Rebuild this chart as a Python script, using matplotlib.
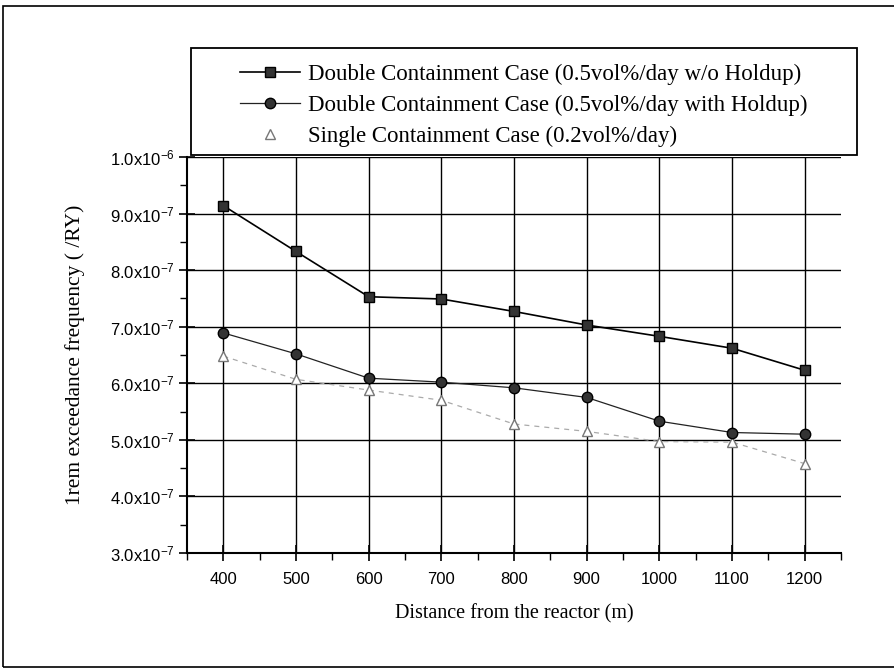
import matplotlib
matplotlib.use('Agg')
import matplotlib.pyplot as plt
from matplotlib.lines import Line2D
from matplotlib.patches import Rectangle
from matplotlib.ticker import MultipleLocator, FuncFormatter

plt.rcParams['mathtext.default'] = 'regular'

# data (frequency in 1e-7 /RY)
distance = [400, 500, 600, 700, 800, 900, 1000, 1100, 1200]
double_no_holdup = [9.14, 8.33, 7.53, 7.49, 7.27, 7.03, 6.83, 6.62, 6.23]
double_holdup = [6.89, 6.52, 6.09, 6.02, 5.92, 5.75, 5.33, 5.13, 5.10]
single = [6.48, 6.07, 5.88, 5.70, 5.28, 5.15, 4.97, 4.96, 4.58]

labels = ['Double Containment Case (0.5vol%/day w/o Holdup)',
          'Double Containment Case (0.5vol%/day with Holdup)',
          'Single Containment Case (0.2vol%/day)']

serif = 'Liberation Serif'
sans = 'Liberation Sans'

fig = plt.figure(figsize=(8.94, 6.70), dpi=100)
ax = fig.add_axes([187 / 894, 1 - 553 / 670, 654 / 894, 396 / 670])

e7 = lambda v: [x * 1e-7 for x in v]

ax.plot(distance, e7(single), color='#aaaaaa', lw=0.9, ls=(0, (4, 4)),
        marker='^', ms=7, mfc='white', mec='#777777', mew=1.0, zorder=3)
ax.plot(distance, e7(double_holdup), color='#222222', lw=0.9,
        marker='o', ms=7.5, mfc='#333333', mec='black', zorder=4)
ax.plot(distance, e7(double_no_holdup), color='black', lw=1.2,
        marker='s', ms=7.5, mfc='#333333', mec='black', zorder=5)

ax.set_xlim(350, 1250)
ax.set_ylim(3e-7, 1e-6)
ax.xaxis.set_major_locator(MultipleLocator(100))
ax.xaxis.set_minor_locator(MultipleLocator(50))
ax.yaxis.set_major_locator(MultipleLocator(1e-7))
ax.yaxis.set_minor_locator(MultipleLocator(0.5e-7))


def fmt_y(v, pos):
    exp = -6 if v > 0.95e-6 else -7
    return '%.1fx10$^{%d}$' % (v / 10 ** exp, exp)


ax.yaxis.set_major_formatter(FuncFormatter(fmt_y))
ax.xaxis.set_major_formatter(FuncFormatter(lambda v, p: '%d' % v if 400 <= v <= 1200 else ''))

for lab in ax.get_xticklabels() + ax.get_yticklabels():
    lab.set_fontfamily(sans)
ax.tick_params(which='major', direction='inout', length=12, width=1.2, labelsize=12)
ax.tick_params(axis='x', which='major', pad=8)
ax.tick_params(axis='y', which='major', pad=3)
ax.tick_params(which='minor', direction='out', length=5, width=1.0)

ax.grid(True, which='major', color='black', lw=1.0)
ax.spines['top'].set_visible(False)
ax.spines['right'].set_visible(False)
ax.spines['left'].set_linewidth(1.5)
ax.spines['bottom'].set_linewidth(1.5)

ax.set_xlabel('Distance from the reactor (m)', fontfamily=serif, fontsize=14.5, labelpad=12)
ax.set_ylabel('1rem exceedance frequency ( /RY)', fontfamily=serif, fontsize=15.5, labelpad=18)

# legend box above the plot
fig.patches.append(Rectangle((191 / 894, 1 - 155 / 670), 666 / 894, 107 / 670,
                             transform=fig.transFigure, fill=False, ec='black', lw=1.3))
handles = [
    Line2D([], [], color='black', lw=1.2, marker='s', ms=7.5, mfc='#333333', mec='black'),
    Line2D([], [], color='#222222', lw=0.9, marker='o', ms=7.5, mfc='#333333', mec='black'),
    Line2D([], [], ls='none', marker='^', ms=7, mfc='white', mec='#777777'),
]
fig.legend(handles, labels, loc='upper left', bbox_to_anchor=(240 / 894, 1 - 64 / 670),
           frameon=False, prop={'family': serif, 'size': 16.5}, handlelength=2.6,
           handletextpad=0.35, labelspacing=0.42, borderpad=0, borderaxespad=0)

# outer page frame
fig.patches.append(Rectangle((3 / 894, 3 / 670), 1.2, 661 / 670,
                             transform=fig.transFigure, fill=False, ec='black', lw=1.2))

fig.savefig('out.png', dpi=100)
